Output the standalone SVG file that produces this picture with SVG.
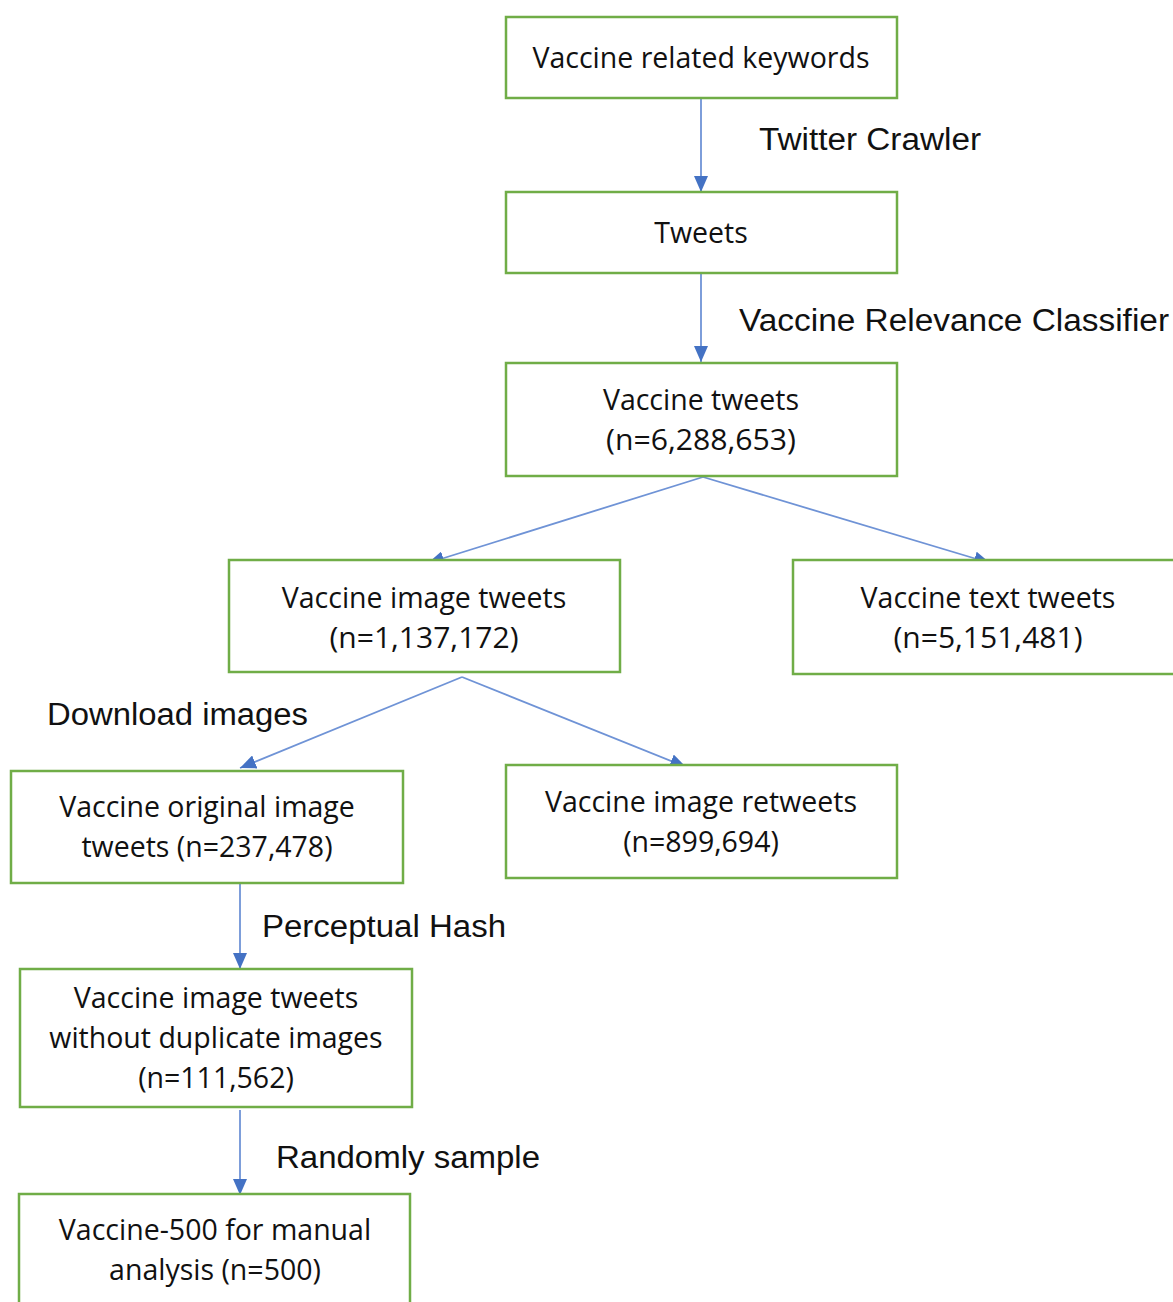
<svg xmlns="http://www.w3.org/2000/svg" width="1173" height="1302" viewBox="0 0 1173 1302">
<defs>
<marker id="ah" markerWidth="16" markerHeight="14" refX="16" refY="7" orient="auto" markerUnits="userSpaceOnUse">
<path d="M0,0 L16,7 L0,14 Z" fill="#4472C4"/>
</marker>
<style>
.box{fill:#fff;stroke:#70AD47;stroke-width:2.5}
.bt{font-family:"Open Sans","Noto Sans",sans-serif;font-size:28.5px;fill:#111;text-anchor:middle}
.lb{font-family:"Liberation Sans",Arial,sans-serif;font-size:31px;fill:#111}
.cn{stroke:#6F93D6;stroke-width:1.8;fill:none;marker-end:url(#ah)}
</style>
</defs>
<rect width="1173" height="1302" fill="#fff"/>
<g id="connectors">
<line class="cn" x1="701" y1="98" x2="701" y2="192"/>
<line class="cn" x1="701" y1="273" x2="701" y2="362"/>
<line class="cn" x1="703" y1="477" x2="428" y2="563"/>
<line class="cn" x1="703" y1="477" x2="990" y2="563"/>
<line class="cn" x1="462" y1="677" x2="240" y2="768"/>
<line class="cn" x1="462" y1="677" x2="686" y2="767"/>
<line class="cn" x1="240" y1="883" x2="240" y2="969"/>
<line class="cn" x1="240" y1="1110" x2="240" y2="1195"/>
</g>
<g id="labels">
<text class="lb" x="759" y="150" textLength="222" lengthAdjust="spacingAndGlyphs">Twitter Crawler</text>
<text class="lb" x="739" y="331" textLength="430" lengthAdjust="spacingAndGlyphs">Vaccine Relevance Classifier</text>
<text class="lb" x="47" y="725" textLength="261" lengthAdjust="spacingAndGlyphs">Download images</text>
<text class="lb" x="262" y="937" textLength="244" lengthAdjust="spacingAndGlyphs">Perceptual Hash</text>
<text class="lb" x="276" y="1168" textLength="264" lengthAdjust="spacingAndGlyphs">Randomly sample</text>
</g>
<g id="n1"><rect class="box" x="506" y="17" width="391" height="81"/><text class="bt" x="701" y="68">Vaccine related keywords</text></g>
<g id="n2"><rect class="box" x="506" y="192" width="391" height="81"/><text class="bt" x="701" y="243">Tweets</text></g>
<g id="n3"><rect class="box" x="506" y="363" width="391" height="113"/><text class="bt" x="701" y="410">Vaccine tweets</text><text class="bt" x="701" y="450" textLength="190" lengthAdjust="spacingAndGlyphs">(n=6,288,653)</text></g>
<g id="n4"><rect class="box" x="229" y="560" width="391" height="112"/><text class="bt" x="424" y="608">Vaccine image tweets</text><text class="bt" x="424" y="648" textLength="189" lengthAdjust="spacingAndGlyphs">(n=1,137,172)</text></g>
<g id="n5"><rect class="box" x="793" y="560" width="390" height="114"/><text class="bt" x="988" y="608">Vaccine text tweets</text><text class="bt" x="988" y="648" textLength="189" lengthAdjust="spacingAndGlyphs">(n=5,151,481)</text></g>
<g id="n6"><rect class="box" x="11" y="771" width="392" height="112"/><text class="bt" x="207" y="817">Vaccine original image</text><text class="bt" x="207" y="857">tweets (n=237,478)</text></g>
<g id="n7"><rect class="box" x="506" y="765" width="391" height="113"/><text class="bt" x="701" y="812">Vaccine image retweets</text><text class="bt" x="701" y="852">(n=899,694)</text></g>
<g id="n8"><rect class="box" x="20" y="969" width="392" height="138"/><text class="bt" x="216" y="1008">Vaccine image tweets</text><text class="bt" x="216" y="1048">without duplicate images</text><text class="bt" x="216" y="1088">(n=111,562)</text></g>
<g id="n9"><rect class="box" x="19" y="1194" width="391" height="120"/><text class="bt" x="215" y="1240">Vaccine-500 for manual</text><text class="bt" x="215" y="1280">analysis (n=500)</text></g>
</svg>
